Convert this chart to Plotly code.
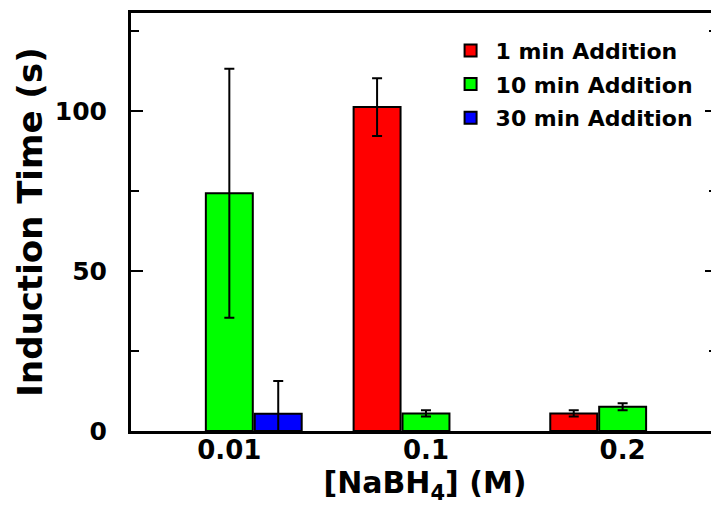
import plotly.graph_objects as go

categories = ["0.01", "0.1", "0.2"]
series_names = ["1 min Addition", "10 min Addition", "30 min Addition"]
red_vals = [None, 101.2, 5.5]
red_err = [0, 9.0, 1.0]
green_vals = [74.3, 5.5, 7.6]
green_err = [38.9, 1.0, 1.1]
blue_vals = [5.4, None, None]
blue_err = [10.2, 0, 0]
colors = ["#ff0000", "#00ff00", "#0000ff"]

FONT = "DejaVu Sans"

fig = go.Figure()
for i, (name, vals, errs, col) in enumerate(zip(series_names, [red_vals, green_vals, blue_vals],
                                                [red_err, green_err, blue_err], colors)):
    fig.add_trace(go.Bar(
        x=categories, y=vals, name=name, legendgroup=f"g{i}",
        marker=dict(color=col, line=dict(color="black", width=2)),
        error_y=dict(type="data", array=errs, visible=True, color="black",
                     thickness=2, width=5),
    ))

# invisible helper trace so the right-hand (mirrored) tick axis is rendered
fig.add_trace(go.Scatter(x=[categories[0]], y=[0], yaxis="y2", mode="markers",
                         marker=dict(opacity=0), showlegend=False, hoverinfo="skip"))

fig.update_layout(
    width=711, height=498,
    margin=dict(l=123, r=0, t=5, b=75),
    plot_bgcolor="white", paper_bgcolor="white",
    barmode="group", bargap=0.254, bargroupgap=0.04,
    font=dict(family=FONT, color="black"),
    showlegend=True,
    legend=dict(x=0.535, y=0.96, xanchor="left", yanchor="top",
                font=dict(family=FONT, size=22, color="black", weight="bold"),
                bgcolor="rgba(0,0,0,0)", itemwidth=40, tracegroupgap=2),
    xaxis=dict(range=[-0.5, 2.49], showline=True, linecolor="black", linewidth=3,
               mirror=True, ticks="", showgrid=False, zeroline=False,
               tickfont=dict(family=FONT, size=26, color="black", weight="bold"),
               ticklabelstandoff=-6,
               title=dict(text="[NaBH<sub>4</sub>] (M)",
                          font=dict(family=FONT, size=30, color="black", weight="bold"),
                          standoff=8)),
    yaxis=dict(range=[0, 130.6], showline=True, linecolor="black", linewidth=3,
               ticks="inside", ticklen=12, tickwidth=2, tickcolor="black",
               tickvals=[0, 50, 100], showgrid=False, zeroline=False,
               ticklabelstandoff=16,
               minor=dict(ticks="inside", ticklen=8, tickwidth=2, tickcolor="black",
                          tickvals=[25, 75, 125]),
               tickfont=dict(family=FONT, size=25, color="black", weight="bold"),
               title=dict(text="Induction Time (s)",
                          font=dict(family=FONT, size=34, color="black", weight="bold"),
                          standoff=2)),
    yaxis2=dict(range=[0, 130.6], overlaying="y", side="right", showline=False,
                ticks="inside", ticklen=14, tickwidth=2, tickcolor="black",
                tickvals=[0, 50, 100], showticklabels=False, showgrid=False,
                zeroline=False,
                minor=dict(ticks="inside", ticklen=10, tickwidth=2, tickcolor="black",
                           tickvals=[25, 75, 125])),
)

fig.write_html("out.html")
